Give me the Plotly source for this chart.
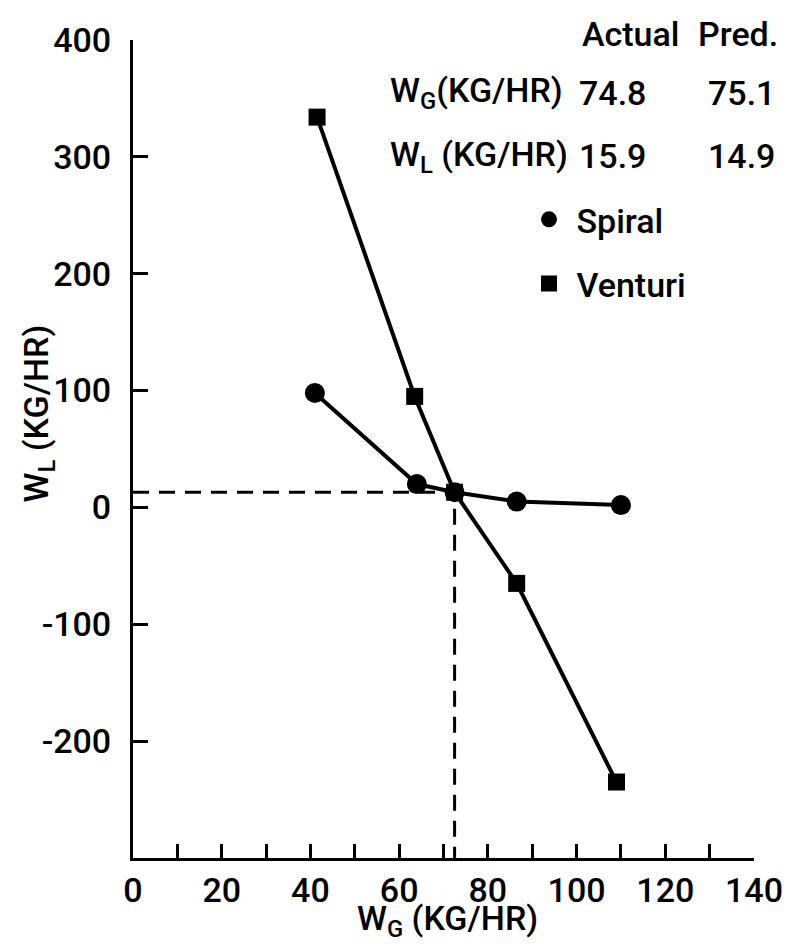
import plotly.graph_objects as go

# ---- data ----
spiral_wg = [41.0, 64.0, 72.5, 86.5, 110.0]
spiral_wl = [98, 20, 13, 5, 2]
venturi_wg = [41.5, 63.5, 72.5, 86.5, 109.0]
venturi_wl = [334, 95, 13, -65, -235]
cross_wg = 72.5
cross_wl = 13
x_ticks = [0, 10, 20, 30, 40, 50, 60, 70, 80, 90, 100, 110, 120, 130, 140]
x_ticktext = ["0", "", "20", "", "40", "", "60", "", "80", "", "100", "", "120", "", "140"]
y_ticks = [-300, -200, -100, 0, 100, 200, 300, 400]
y_ticktext = ["", "-200", "-100", "0", "100", "200", "300", "400"]
table_header = ["Actual", "Pred."]
table_rows = [
    ("W<sub>G</sub>(KG/HR)", "74.8", "75.1"),
    ("W<sub>L</sub> (KG/HR)", "15.9", "14.9"),
]

OFF = 8  # page body margin
W, H = 795 - OFF, 950 - OFF
L, R, T, B = 133, 758, 33, 858  # target pixel positions on the page
FONT = "Roboto, DejaVu Sans, sans-serif"
FS = 34
WT = 500


def px(x):
    return (x - L) / (R - L)


def py(y):
    return (B - y) / (B - T)


fig = go.Figure()

# dashed guide lines at the crossing point
fig.add_trace(go.Scatter(x=[0, cross_wg, cross_wg], y=[cross_wl, cross_wl, -300],
                         mode="lines", line=dict(color="black", width=3, dash="16px,10px"),
                         showlegend=False, hoverinfo="skip"))

fig.add_trace(go.Scatter(x=spiral_wg, y=spiral_wl, mode="lines+markers",
                         line=dict(color="black", width=4),
                         marker=dict(symbol="circle", size=20, color="black"),
                         showlegend=False))
fig.add_trace(go.Scatter(x=venturi_wg, y=venturi_wl, mode="lines+markers",
                         line=dict(color="black", width=4),
                         marker=dict(symbol="square", size=17, color="black"),
                         showlegend=False))

# legend-only entries (marker only)
fig.add_trace(go.Scatter(x=[None], y=[None], mode="markers", name="Spiral",
                         marker=dict(symbol="circle", size=20, color="black"),
                         legendgroup="a"))
fig.add_trace(go.Scatter(x=[None], y=[None], mode="markers", name="Venturi",
                         marker=dict(symbol="square", size=17, color="black"),
                         legendgroup="b"))

annotations = []
for txt, xc in zip(table_header, [634, 742]):
    annotations.append(dict(text=txt, x=px(xc), y=py(27), xanchor="center", yanchor="middle"))
for (lab, a, p), yc in zip(table_rows, [86, 150]):
    annotations.append(dict(text=lab, x=px(390), y=py(yc), xanchor="left", yanchor="middle"))
    annotations.append(dict(text=a, x=px(616), y=py(yc), xanchor="center", yanchor="middle"))
    annotations.append(dict(text=p, x=px(745), y=py(yc), xanchor="center", yanchor="middle"))

annotations.append(dict(text="W<sub>G</sub> (KG/HR)", x=px(450), y=py(921),
                        xanchor="center", yanchor="middle"))
annotations.append(dict(text="W<sub>L</sub> (KG/HR)", x=px(38), y=py(410), textangle=-90,
                        xanchor="center", yanchor="middle"))
for a in annotations:
    a.update(xref="paper", yref="paper", showarrow=False,
             font=dict(family=FONT, size=FS, color="black", weight=WT))

fig.update_layout(
    width=W, height=H,
    margin=dict(l=L - OFF, r=W - (R - OFF), t=T - OFF, b=H - (B - OFF)),
    paper_bgcolor="white", plot_bgcolor="white",
    font=dict(family=FONT, size=FS, color="black", weight=WT),
    annotations=annotations,
    legend=dict(x=px(524), y=py(185), xanchor="left", yanchor="top",
                bgcolor="rgba(0,0,0,0)", tracegroupgap=17,
                font=dict(family=FONT, size=FS, color="black", weight=WT),
                itemwidth=45),
    xaxis=dict(range=[0, 140], tickvals=x_ticks, ticktext=x_ticktext,
               ticks="inside", ticklen=14, tickwidth=3, tickcolor="black",
               showline=True, linecolor="black", linewidth=3,
               showgrid=False, zeroline=False, ticklabelstandoff=0),
    yaxis=dict(range=[-300, 400], tickvals=y_ticks, ticktext=y_ticktext,
               ticks="inside", ticklen=15, tickwidth=3, tickcolor="black",
               showline=True, linecolor="black", linewidth=3,
               showgrid=False, zeroline=False, ticklabelstandoff=12),
)

fig.write_html("out.html")
